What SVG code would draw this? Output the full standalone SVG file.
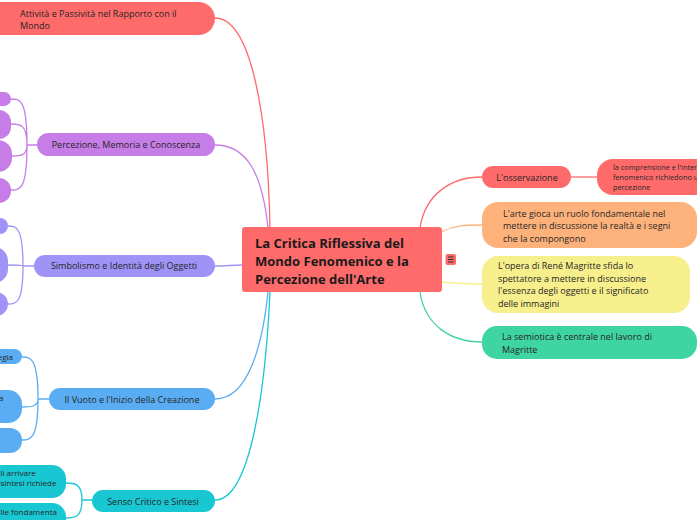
<svg xmlns="http://www.w3.org/2000/svg" width="697" height="520" viewBox="0 0 697 520">
<style>
text{font-family:"Open Sans","Noto Sans","Liberation Sans",sans-serif;font-size:9px;fill:#262626}
.c{text-anchor:middle}
.e{text-anchor:end}
.b{font-weight:bold;font-size:13px;fill:#1a1a1a}
.s{font-size:7.3px}
.t{font-size:8px}
.ln{fill:none;stroke-width:1.3}
.red{fill:#ff6b6b}.pur{fill:#c77de8}.lav{fill:#a093f7}.blu{fill:#5aadf2}.tur{fill:#18c7d2}.org{fill:#feb27b}.yel{fill:#f6ef8c}.grn{fill:#3fd5a2}
</style>
<g id="connectors">
<path class="ln" stroke="#ff6b6b" d="M215,18 C252,18 268,120 270,228"/>
<path class="ln" stroke="#c77de8" d="M215,145 C245,145 262,170 268,228"/>
<path class="ln" stroke="#a093f7" d="M215,266 C228,266 230,265 242,265"/>
<path class="ln" stroke="#5aadf2" d="M215,399 C250,399 263,340 268,292"/>
<path class="ln" stroke="#18c7d2" d="M215,500 C252,500 266,380 270,292"/>
<path class="ln" stroke="#ff6b6b" d="M420,228 C425,195 450,177 482,177"/>
<path class="ln" stroke="#ff6b6b" d="M571,177 H597"/>
<path class="ln" stroke="#feb27b" d="M441,232 C455,225 465,225 482,225"/>
<path class="ln" stroke="#f6ef8c" d="M441,282 C455,283 465,284 482,284"/>
<path class="ln" stroke="#3fd5a2" d="M420,292 C425,325 450,342 482,342"/>
<path class="ln" stroke="#c77de8" d="M37,145 H27 M27,145 C27,99 20,99 11,99 M27,145 C27,124 20,124 11,124 M27,145 C27,156 20,156 12,156 M27,145 C27,190 20,190 11,190"/>
<path class="ln" stroke="#a093f7" d="M34,266 H23 M23,266 C23,226 16,226 8,226 M23,266 C23,265 16,265 8,265 M23,266 C23,304 16,304 8,304"/>
<path class="ln" stroke="#5aadf2" d="M49,399 H38 M38,399 C38,357 30,357 22,357 M38,399 C38,407 30,407 22,407 M38,399 C38,440 30,440 22,440"/>
<path class="ln" stroke="#18c7d2" d="M92,500 H82 M82,500 C82,483 74,483 66,483 M82,500 C82,518 74,518 66,518"/>
</g>
<g id="center">
<rect class="red" x="242" y="227" width="200" height="65" rx="3"/>
<text class="b" x="255" y="248">La Critica Riflessiva del</text>
<text class="b" x="255" y="266">Mondo Fenomenico e la</text>
<text class="b" x="255" y="284">Percezione dell'Arte</text>
<rect class="red" x="445.5" y="254" width="10.5" height="11" rx="2"/>
<path d="M448,257 H453.5 M448,259.5 H453.5 M448,262 H453.5" stroke="#333" stroke-width="1" fill="none"/>
</g>
<g id="n-attivita">
<rect class="red" x="-20" y="2" width="235" height="33" rx="16.5"/>
<text x="20" y="17">Attività e Passività nel Rapporto con il</text>
<text x="20" y="29">Mondo</text>
</g>
<g id="n-percezione">
<rect class="pur" x="37" y="133" width="178" height="23" rx="11.5"/>
<text class="c" x="126" y="147.5">Percezione, Memoria e Conoscenza</text>
</g>
<g id="n-perc-c1"><rect class="pur" x="-60" y="92" width="71" height="14" rx="7"/></g>
<g id="n-perc-c2"><rect class="pur" x="-60" y="110" width="71" height="29" rx="12"/></g>
<g id="n-perc-c3"><rect class="pur" x="-60" y="140" width="72" height="32" rx="14"/></g>
<g id="n-perc-c4"><rect class="pur" x="-60" y="178" width="71" height="25" rx="12"/></g>
<g id="n-simbolismo">
<rect class="lav" x="34" y="255" width="181" height="22" rx="11"/>
<text class="c" x="124" y="269">Simbolismo e Identità degli Oggetti</text>
</g>
<g id="n-simb-c1"><rect class="lav" x="-60" y="218" width="68" height="16" rx="8"/></g>
<g id="n-simb-c2"><rect class="lav" x="-60" y="247" width="68" height="36" rx="14"/></g>
<g id="n-simb-c3"><rect class="lav" x="-60" y="292" width="68" height="24" rx="12"/></g>
<g id="n-vuoto">
<rect class="blu" x="49" y="388" width="166" height="22" rx="11"/>
<text class="c" x="132" y="403">Il Vuoto e l'Inizio della Creazione</text>
</g>
<g id="n-vuoto-c1"><rect class="blu" x="-100" y="349" width="122" height="15" rx="7.5"/><text class="t e" x="13" y="359.5">egia</text></g>
<g id="n-vuoto-c2"><rect class="blu" x="-100" y="390" width="122" height="33" rx="14"/><text class="t" x="-1" y="401">a</text></g>
<g id="n-vuoto-c3"><rect class="blu" x="-100" y="428" width="122" height="25" rx="12"/></g>
<g id="n-senso">
<rect class="tur" x="92" y="490" width="123" height="22" rx="11"/>
<text class="c" x="153" y="505">Senso Critico e Sintesi</text>
</g>
<g id="n-senso-c1"><rect class="tur" x="-100" y="465" width="166" height="33" rx="14"/><text class="t" x="0.5" y="476">li arrivare</text><text class="t" x="0.5" y="485.5">sintesi richiede</text></g>
<g id="n-senso-c2"><rect class="tur" x="-100" y="503" width="166" height="40" rx="14"/><text class="t" x="0.5" y="514.5">lle fondamenta</text></g>
<g id="n-osservazione">
<rect class="red" x="482" y="166" width="89" height="22" rx="11"/>
<text class="c" x="527" y="180.5">L'osservazione</text>
</g>
<g id="n-oss-c1">
<rect class="red" x="597" y="159" width="140" height="36" rx="16"/>
<text class="s" x="613" y="169.5">la comprensione e l'interp</text>
<text class="s" x="613" y="179.5">fenomenico richiedono u</text>
<text class="s" x="613" y="190">percezione</text>
</g>
<g id="n-arte">
<rect class="org" x="482" y="202" width="215" height="46" rx="16"/>
<text x="503" y="216.5">L'arte gioca un ruolo fondamentale nel</text>
<text x="503" y="229">mettere in discussione la realtà e i segni</text>
<text x="503" y="241.5">che la compongono</text>
</g>
<g id="n-magritte">
<rect class="yel" x="482" y="256" width="208" height="57" rx="16"/>
<text x="498" y="269">L'opera di René Magritte sfida lo</text>
<text x="498" y="281.5">spettatore a mettere in discussione</text>
<text x="498" y="294">l'essenza degli oggetti e il significato</text>
<text x="498" y="306.5">delle immagini</text>
</g>
<g id="n-semiotica">
<rect class="grn" x="482" y="326" width="215" height="33" rx="15"/>
<text x="502" y="340">La semiotica è centrale nel lavoro di</text>
<text x="502" y="352.5">Magritte</text>
</g>
</svg>
